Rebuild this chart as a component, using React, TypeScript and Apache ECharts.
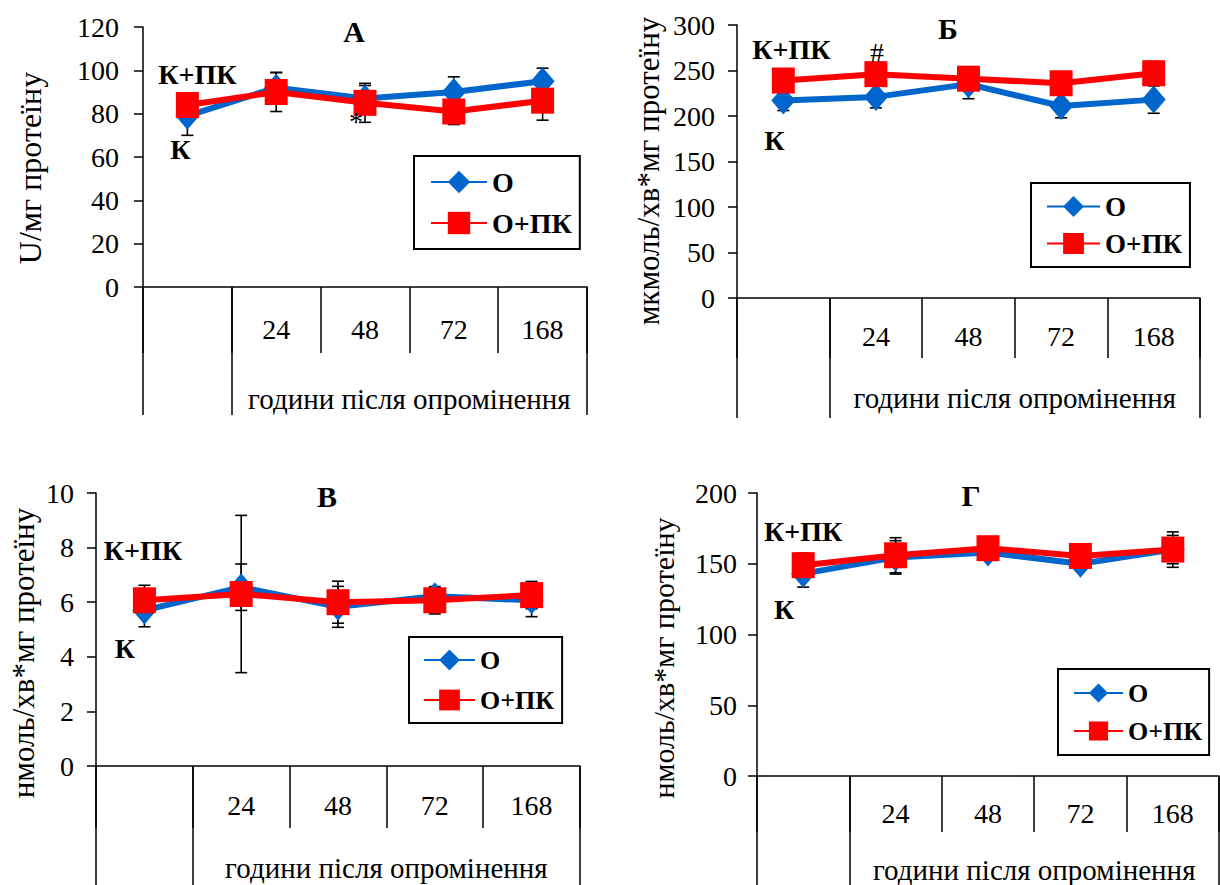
import React, { useEffect, useRef } from "react";
import * as echarts from "echarts";

// Categories along the x axis: control group, then hours after irradiation
const categories = ["", "24", "48", "72", "168"];
const seriesNames = ["О", "О+ПК"];
const panelTitles = ["А", "Б", "В", "Г"];
const yNames = [
  "U/мг протеїну",
  "мкмоль/хв*мг протеїну",
  "нмоль/хв*мг протеїну",
  "нмоль/хв*мг протеїну",
];
const groupLabel = "години після опромінення";

// Panel А
const aO = [79, 92, 87, 90, 95];
const aOErr = [9, 7, 6, 7, 6];
const aOPK = [84, 90, 85, 81, 86];
const aOPKErr = [4, 9, 9, 6, 9];

// Panel Б
const bO = [217, 221, 235, 211, 218];
const bOErr = [11, 12, 16, 13, 15];
const bOPK = [239, 246, 241, 236, 247];
const bOPKErr = [6, 10, 13, 8, 13];

// Panel В
const vO = [5.7, 6.55, 5.83, 6.22, 6.07];
const vOErr = [0.6, 0.85, 0.75, 0.3, 0.6];
const vOPK = [6.07, 6.3, 6.0, 6.07, 6.26];
const vOPKErr = [0.55, 2.88, 0.77, 0.5, 0.5];

// Panel Г
const gO = [143, 154.5, 158, 150, 160];
const gOErr = [9.5, 11.8, 5, 4, 10];
const gOPK = [149, 156, 161, 155.5, 160];
const gOPKErr = [8.5, 12.4, 4, 4, 12.5];

const FONT = "Liberation Serif";
const BLUE = "#0066CC";
const RED = "#FF0000";

type Note = { text: string; cat: number; value: number; dx: number; bold: boolean; onRed: boolean };

const panels = [
  {
    o: aO, oErr: aOErr, opk: aOPK, opkErr: aOPKErr,
    grid: { left: 143, top: 27, width: 444, height: 260 },
    yMax: 120, yStep: 20, yMargin: 24,
    tickLen: 66, tableLen: 128, catMargin: 28, groupMargin: 97,
    title: { x: 354, y: 31 },
    yName: { x: 30, y: 168, size: 32 },
    legend: { left: 414, top: 156, w: 56, h: 28, gap: 13, pad: [12, 8, 12, 16], size: 28 },
    notes: [
      { text: "К+ПК", cat: 0, value: 98.3, dx: 10, bold: true, onRed: true },
      { text: "К", cat: 0, value: 63.5, dx: -7, bold: true, onRed: false },
      { text: "*", cat: 2, value: 76.5, dx: -9, bold: false, onRed: true },
    ] as Note[],
  },
  {
    o: bO, oErr: bOErr, opk: bOPK, opkErr: bOPKErr,
    grid: { left: 737, top: 25, width: 463, height: 273 },
    yMax: 300, yStep: 50, yMargin: 22,
    tickLen: 60, tableLen: 120, catMargin: 24, groupMargin: 85,
    title: { x: 948, y: 28 },
    yName: { x: 648, y: 171, size: 31 },
    legend: { left: 1031, top: 183, w: 53, h: 26, gap: 10, pad: [10, 8, 10, 15], size: 27 },
    notes: [
      { text: "К+ПК", cat: 0, value: 273, dx: 8, bold: true, onRed: true },
      { text: "#", cat: 1, value: 270, dx: 1, bold: false, onRed: true },
      { text: "К", cat: 0, value: 173.6, dx: -9, bold: true, onRed: false },
    ] as Note[],
  },
  {
    o: vO, oErr: vOErr, opk: vOPK, opkErr: vOPKErr,
    grid: { left: 96, top: 493, width: 484, height: 273 },
    yMax: 10, yStep: 2, yMargin: 22,
    tickLen: 62, tableLen: 125, catMargin: 25, groupMargin: 87,
    title: { x: 327, y: 496 },
    yName: { x: 23, y: 653, size: 31 },
    legend: { left: 409, top: 637, w: 51, h: 26, gap: 14, pad: [10, 8, 10, 14], size: 26 },
    notes: [
      { text: "К+ПК", cat: 0, value: 7.88, dx: -1.5, bold: true, onRed: true },
      { text: "К", cat: 0, value: 4.29, dx: -19.5, bold: true, onRed: false },
    ] as Note[],
  },
  {
    o: gO, oErr: gOErr, opk: gOPK, opkErr: gOPKErr,
    grid: { left: 757, top: 493, width: 462, height: 283 },
    yMax: 200, yStep: 50, yMargin: 20,
    tickLen: 56, tableLen: 115, catMargin: 23, groupMargin: 79,
    title: { x: 971, y: 495 },
    yName: { x: 663, y: 658, size: 30 },
    legend: { left: 1058, top: 669, w: 49, h: 24, gap: 12, pad: [11, 7, 11, 15], size: 26 },
    notes: [
      { text: "К+ПК", cat: 0, value: 173, dx: 0, bold: true, onRed: true },
      { text: "К", cat: 0, value: 118, dx: -19, bold: true, onRed: false },
    ] as Note[],
  },
];

const black = { color: "#000", width: 1.5 };

// Vertical error bar with caps, placed through the grid's own scales
function errorBar(params: any, api: any) {
  const i = api.value(0);
  const v = api.value(1);
  const e = api.value(2);
  const hi = api.coord([i, v + e]);
  const lo = api.coord([i, v - e]);
  const cap = 6;
  const style = { stroke: "#000", lineWidth: 1.6 };
  return {
    type: "group",
    children: [
      { type: "line", shape: { x1: hi[0], y1: hi[1], x2: lo[0], y2: lo[1] }, style },
      { type: "line", shape: { x1: hi[0] - cap, y1: hi[1], x2: hi[0] + cap, y2: hi[1] }, style },
      { type: "line", shape: { x1: lo[0] - cap, y1: lo[1], x2: lo[0] + cap, y2: lo[1] }, style },
    ],
  };
}

function noteMarks(notes: Note[], onRed: boolean) {
  return {
    symbol: "circle",
    symbolSize: 1,
    itemStyle: { color: "rgba(0,0,0,0)" },
    silent: true,
    data: notes
      .filter((n) => n.onRed === onRed)
      .map((n) => ({
        coord: [n.cat, n.value],
        label: {
          show: true,
          position: "inside",
          formatter: n.text,
          offset: [n.dx, 0],
          color: "#000",
          fontFamily: FONT,
          fontSize: 28,
          fontWeight: n.bold ? "bold" : "normal",
        },
      })),
  };
}

function buildOption() {
  const grid: any[] = [];
  const xAxis: any[] = [];
  const yAxis: any[] = [];
  const series: any[] = [];
  const legend: any[] = [];
  const graphic: any[] = [];

  panels.forEach((p, i) => {
    grid.push({ ...p.grid, containLabel: false });

    xAxis.push({
      gridIndex: i,
      type: "category",
      data: categories,
      boundaryGap: true,
      position: "bottom",
      axisLine: { show: true, onZero: false, lineStyle: black },
      axisTick: { show: true, length: p.tickLen, lineStyle: black },
      axisLabel: { fontSize: 28, color: "#000", fontFamily: FONT, margin: p.catMargin },
      splitLine: { show: false },
    });
    xAxis.push({
      gridIndex: i,
      type: "value",
      min: 0,
      max: 5,
      position: "bottom",
      axisLine: { show: false, onZero: false },
      axisTick: { show: true, length: p.tableLen, customValues: [0, 1, 5], lineStyle: black },
      axisLabel: {
        show: true,
        customValues: [3],
        formatter: () => groupLabel,
        fontSize: 29,
        color: "#000",
        fontFamily: FONT,
        margin: p.groupMargin,
      },
      splitLine: { show: false },
    });

    yAxis.push({
      gridIndex: i,
      type: "value",
      min: 0,
      max: p.yMax,
      interval: p.yStep,
      axisLine: { show: true, lineStyle: black },
      axisTick: { show: true, length: 9, lineStyle: black },
      axisLabel: { fontSize: 28, color: "#000", fontFamily: FONT, margin: p.yMargin },
      splitLine: { show: false },
    });

    const common = { xAxisIndex: 2 * i, yAxisIndex: i };

    series.push({
      ...common,
      type: "custom",
      name: "err-o-" + i,
      z: 1,
      renderItem: errorBar,
      encode: { x: 0, y: 1 },
      data: p.o.map((v, k) => [k, v, p.oErr[k]]),
    });
    series.push({
      ...common,
      type: "custom",
      name: "err-opk-" + i,
      z: 1,
      renderItem: errorBar,
      encode: { x: 0, y: 1 },
      data: p.opk.map((v, k) => [k, v, p.opkErr[k]]),
    });
    series.push({
      ...common,
      type: "line",
      name: seriesNames[0],
      data: p.o,
      symbol: "diamond",
      symbolSize: [24, 28],
      showAllSymbol: true,
      color: BLUE,
      itemStyle: { color: BLUE },
      lineStyle: { color: BLUE, width: 6 },
      z: 3,
      markPoint: noteMarks(p.notes, false),
    });
    series.push({
      ...common,
      type: "line",
      name: seriesNames[1],
      data: p.opk,
      symbol: "rect",
      symbolSize: [23, 26],
      showAllSymbol: true,
      color: RED,
      itemStyle: { color: RED },
      lineStyle: { color: RED, width: 6 },
      z: 4,
      markPoint: noteMarks(p.notes, true),
    });

    legend.push({
      left: p.legend.left,
      top: p.legend.top,
      orient: "vertical",
      data: seriesNames,
      selectedMode: false,
      itemWidth: p.legend.w,
      itemHeight: p.legend.h,
      itemGap: p.legend.gap,
      padding: p.legend.pad,
      borderColor: "#000",
      borderWidth: 2,
      backgroundColor: "#fff",
      textStyle: {
        fontSize: p.legend.size,
        fontWeight: "bold",
        color: "#000",
        fontFamily: FONT,
        lineHeight: p.legend.h,
      },
    });

    graphic.push({
      type: "text",
      x: p.title.x,
      y: p.title.y,
      style: {
        text: panelTitles[i],
        fill: "#000",
        fontFamily: FONT,
        fontSize: 30,
        fontWeight: "bold",
        align: "center",
        verticalAlign: "middle",
      },
    });
    graphic.push({
      type: "text",
      x: p.yName.x,
      y: p.yName.y,
      rotation: Math.PI / 2,
      style: {
        text: yNames[i],
        fill: "#000",
        fontFamily: FONT,
        fontSize: p.yName.size,
        align: "center",
        verticalAlign: "middle",
      },
    });
  });

  return {
    animation: false,
    backgroundColor: "#fff",
    textStyle: { fontFamily: FONT },
    grid,
    xAxis,
    yAxis,
    legend,
    graphic,
    series,
  };
}

export default function App() {
  const ref = useRef<HTMLDivElement>(null);
  useEffect(() => {
    if (!ref.current) return;
    const chart = echarts.init(ref.current, null, { renderer: "svg" });
    chart.setOption(buildOption() as any);
    return () => chart.dispose();
  }, []);
  return (
    <div
      ref={ref}
      style={{ position: "absolute", left: 0, top: 0, width: 1220, height: 885, background: "#fff" }}
    />
  );
}
